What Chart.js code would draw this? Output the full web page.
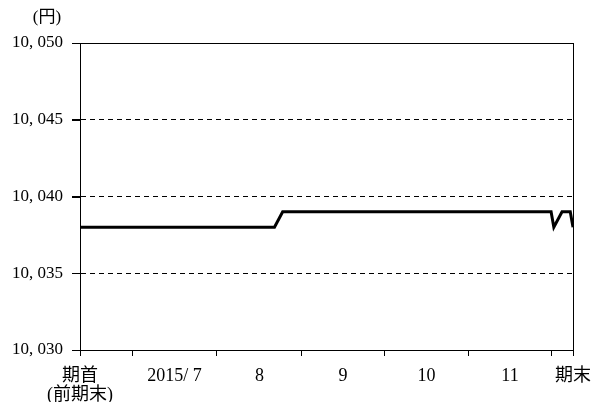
<!DOCTYPE html>
<html>
<head>
<meta charset="utf-8">
<script src="https://cdn.jsdelivr.net/npm/chart.js@4"></script>
<style>
  html, body { margin: 0; padding: 0; background: #fff; }
  #wrap { width: 593px; height: 402px; }
</style>
</head>
<body>
<div id="wrap"><canvas id="myChart" width="593" height="402"></canvas></div>
<script>
// values (key points of the daily NAV line)
let dates = ['2015-06-12', '2015-08-22', '2015-08-25', '2015-12-01', '2015-12-02', '2015-12-05', '2015-12-08', '2015-12-09']
let values = [10038, 10038, 10039, 10039, 10038, 10039, 10039, 10038]

// x axis
let startDate = '2015-06-12'
let endDate = '2015-12-09'
let startLabel = ['期首', '(前期末)']
let endLabel = '期末'
let monthStarts = ['2015-07-01', '2015-08-01', '2015-09-01', '2015-10-01', '2015-11-01', '2015-12-01']
let monthLabels = ['2015/ 7', '8', '9', '10', '11']

// y axis
let yMin = 10030
let yMax = 10050
let yStep = 5
let yUnit = '(円)'

const FONT = '"Liberation Serif", "Noto Sans CJK JP", serif'

const day = (d) => (Date.parse(d) - Date.parse(startDate)) / 86400000

// tick value -> label
let xTickLabels = new Map()
let boundaryTicks = new Set()
xTickLabels.set(day(startDate), startLabel)
boundaryTicks.add(day(startDate))
monthStarts.forEach((m) => {
  xTickLabels.set(day(m), '')
  boundaryTicks.add(day(m))
})
xTickLabels.set(day(endDate), endLabel)
boundaryTicks.add(day(endDate))
monthLabels.forEach((l, i) => {
  let mid = (day(monthStarts[i]) + day(monthStarts[i + 1])) / 2
  xTickLabels.set(mid, l)
})

const fmtYen = (v) => {
  let s = String(Math.round(v))
  return s.slice(0, s.length - 3) + ', ' + s.slice(-3)
}

const framePlugin = {
  id: 'frame',
  afterDraw(chart) {
    const { ctx, chartArea } = chart
    const yScale = chart.scales.y
    ctx.save()
    ctx.strokeStyle = '#000'
    ctx.lineWidth = 1
    ctx.setLineDash([])
    ctx.strokeRect(Math.round(chartArea.left) + 0.5, Math.round(chartArea.top) + 0.5,
      Math.round(chartArea.right - chartArea.left), Math.round(chartArea.bottom - chartArea.top))
    // outward tick marks on the value axis
    ctx.beginPath()
    yScale.ticks.forEach((t) => {
      let py = Math.round(yScale.getPixelForValue(t.value)) + 0.5
      ctx.moveTo(Math.round(chartArea.left) - 8, py)
      ctx.lineTo(Math.round(chartArea.left) + 1, py)
    })
    ctx.stroke()
    ctx.fillStyle = '#000'
    ctx.font = '17px ' + FONT
    ctx.textAlign = 'center'
    ctx.textBaseline = 'middle'
    ctx.fillText(yUnit, chartArea.left - 33, chartArea.top - 25)
    ctx.restore()
  },
}

const config = {
  type: 'line',
  data: {
    datasets: [
      {
        data: dates.map((d, i) => ({ x: day(d), y: values[i] })),
        borderColor: '#000',
        borderWidth: 3,
        pointRadius: 0,
        tension: 0,
        fill: false,
      },
    ],
  },
  options: {
    responsive: false,
    animation: false,
    layout: { padding: { left: 0, right: 20, top: 43, bottom: 0 } },
    plugins: {
      legend: { display: false },
      tooltip: { enabled: false },
    },
    scales: {
      x: {
        type: 'linear',
        min: day(startDate),
        max: day(endDate),
        afterBuildTicks: (scale) => {
          scale.ticks = [...xTickLabels.keys()].sort((a, b) => a - b).map((v) => ({ value: v }))
        },
        afterFit: (scale) => {
          scale.height = 52
          scale.paddingLeft = 0
          scale.paddingRight = 0
        },
        ticks: {
          autoSkip: false,
          maxRotation: 0,
          minRotation: 0,
          padding: 11,
          color: '#000',
          font: { family: FONT, size: 18, lineHeight: 1.05 },
          callback: (v) => xTickLabels.get(v),
        },
        grid: {
          drawOnChartArea: false,
          drawTicks: true,
          tickLength: 6,
          tickColor: (ctx) => (ctx.tick && boundaryTicks.has(ctx.tick.value) ? '#000' : 'rgba(0,0,0,0)'),
        },
        border: { color: '#000', width: 1 },
      },
      y: {
        type: 'linear',
        min: yMin,
        max: yMax,
        ticks: {
          stepSize: yStep,
          padding: 9,
          color: '#000',
          font: { family: FONT, size: 17 },
          callback: (v) => fmtYen(v),
        },
        afterFit: (scale) => {
          scale.width = 80
        },
        grid: {
          color: '#000',
          lineWidth: 1,
          tickLength: 8,
          tickColor: '#000',
        },
        border: {
          color: '#000',
          width: 1,
          dash: (ctx) => (ctx.tick && (ctx.tick.value === yMin || ctx.tick.value === yMax) ? [] : [5, 4]),
        },
      },
    },
  },
  plugins: [framePlugin],
}

var myChart = new Chart(document.getElementById('myChart'), config)
</script>
</body>
</html>
